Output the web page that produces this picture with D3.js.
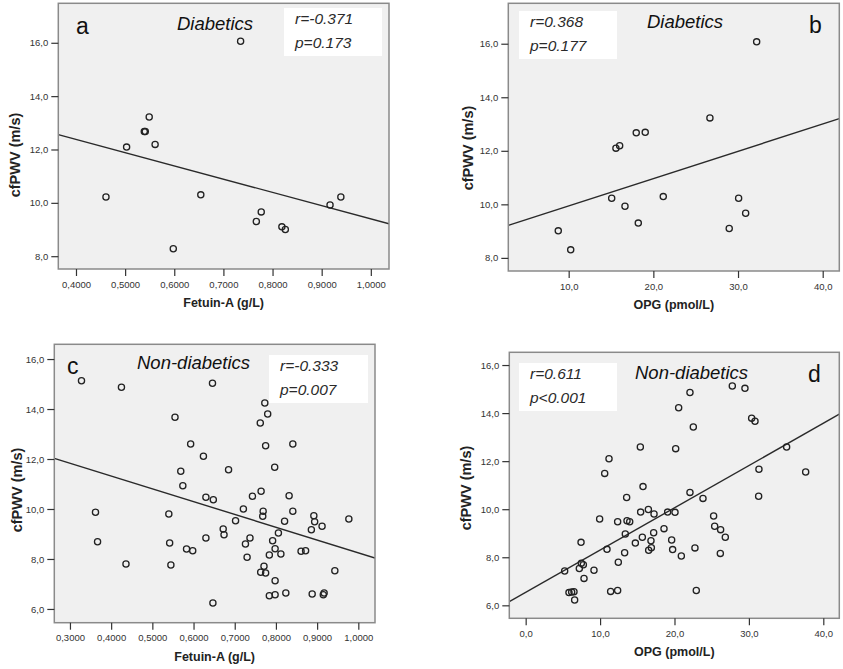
<!DOCTYPE html>
<html><head><meta charset="utf-8">
<script src="https://cdn.jsdelivr.net/npm/d3@7"></script>
<style>
html,body{margin:0;padding:0;background:#fff;}
svg{display:block;font-family:Arial,"Liberation Sans",sans-serif;}
</style></head>
<body><svg id="chart" width="843" height="669"></svg>
<script>
// ---- data ----
const aFetuin = [0.461,0.503,0.539,0.541,0.549,0.561,0.598,0.654,0.735,0.767,0.777,0.819,0.826,0.917,0.939];
const aPwv    = [10.22,12.09,12.67,12.67,13.22,12.19,8.28,10.30,16.06,9.30,9.66,9.10,9.00,9.92,10.22];

const bOpg = [8.77,10.24,15.08,15.58,16.02,16.65,17.98,18.22,19.04,21.17,26.68,28.96,30.07,30.90,32.20];
const bPwv = [9.01,8.30,10.23,12.10,12.19,9.93,12.67,9.30,12.69,10.29,13.23,9.10,10.23,9.67,16.07];

const cFetuin = [0.328,0.425,0.362,0.367,0.436,0.555,0.540,0.542,0.545,0.569,0.574,0.593,0.583,0.598,0.624,0.630,0.630,0.646,0.648,0.647,
  0.672,0.674,0.685,0.702,0.721,0.726,0.730,0.737,0.743,0.763,0.762,0.764,0.773,0.780,0.775,0.769,0.768,0.771,0.775,0.784,
  0.792,0.798,0.797,0.798,0.784,0.798,0.806,0.812,0.821,0.824,0.832,0.841,0.841,0.861,0.872,0.886,0.892,0.894,0.888,0.912,
  0.915,0.917,0.943,0.977];
const cPwv = [15.13,14.87,9.87,8.69,7.80,13.67,9.80,8.64,7.76,11.51,10.93,12.60,8.40,8.33,12.11,10.47,8.84,15.03,10.37,6.24,
  9.20,8.97,11.57,9.53,10.00,8.60,8.07,8.84,10.51,7.47,13.44,10.71,14.24,13.80,12.53,9.91,9.71,7.71,7.44,8.16,
  8.73,8.41,11.67,7.13,6.53,6.57,9.04,8.20,9.51,6.64,10.53,12.60,9.91,8.31,8.33,9.17,9.73,9.49,6.60,9.31,
  6.57,6.64,7.53,9.60];

const dOpg = [5.24,5.82,6.18,6.49,6.58,7.44,7.21,7.48,7.75,7.84,9.18,9.94,10.62,10.93,11.20,11.42,12.36,12.45,12.36,13.30,
  13.39,13.57,13.62,13.98,14.74,15.41,15.45,15.68,15.77,16.49,16.53,16.84,16.89,17.20,17.25,18.59,19.08,19.62,19.75,20.07,
  20.16,20.56,20.92,22.08,22.08,22.53,22.75,22.93,23.83,25.26,25.40,26.20,26.16,26.83,27.77,29.47,30.37,30.82,31.31,31.35,
  35.07,37.63];
const dPwv = [7.43,6.53,6.55,6.57,6.22,8.62,7.53,7.75,7.69,7.12,7.46,9.59,11.49,8.33,12.10,6.58,9.48,7.79,6.62,8.19,
  8.97,10.49,9.52,9.48,8.59,12.59,9.88,8.83,10.94,9.99,8.29,8.69,8.40,9.02,9.80,9.19,9.88,8.72,8.32,9.87,
  12.52,14.22,8.05,14.86,10.70,13.42,8.39,6.62,10.45,9.72,9.29,9.15,8.16,8.83,15.13,15.03,13.79,13.66,10.54,11.66,
  12.59,11.55];

// fitted regression lines (slope, intercept) as drawn in the reference
const fitSlopes     = [-4.96, 0.102, -5.125, 0.1759];
const fitIntercepts = [14.36, 8.92, 13.37, 6.54];

const panelLetters = ["a","b","c","d"];
const groupLabels  = ["Diabetics","Diabetics","Non-diabetics","Non-diabetics"];
const rLabels      = ["r=-0.371","r=0.368","r=-0.333","r=0.611"];
const pLabels      = ["p=0.173","p=0.177","p=0.007","p<0.001"];
const xTitles      = ["Fetuin-A (g/L)","OPG (pmol/L)","Fetuin-A (g/L)","OPG (pmol/L)"];
const yTitle       = "cfPWV (m/s)";

const xTicksA = [0.4,0.5,0.6,0.7,0.8,0.9,1.0];
const xTicksB = [10,20,30,40];
const xTicksC = [0.3,0.4,0.5,0.6,0.7,0.8,0.9,1.0];
const xTicksD = [0,10,20,30,40];
const yTicksTop    = [8,10,12,14,16];
const yTicksBottom = [6,8,10,12,14,16];

// ---- layout ----
const panels = [
  {xs:aFetuin, ys:aPwv, xTicks:xTicksA, yTicks:yTicksTop, xDec:4,
   L:58.3, R:389, T:3.3, B:269, xDom:[0.364,1.037], yDom:[7.52,17.48],
   letter:[76,34], group:[177,30], box:[284,8,98,48], yTitlePos:[20,155]},
  {xs:bOpg, ys:bPwv, xTicks:xTicksB, yTicks:yTicksTop, xDec:1,
   L:508.3, R:839.3, T:3.3, B:271, xDom:[2.87,41.96], yDom:[7.51,17.51],
   letter:[809,33], group:[647,28], box:[519,11,98,48], yTitlePos:[473,148]},
  {xs:cFetuin, ys:cPwv, xTicks:xTicksC, yTicks:yTicksBottom, xDec:4,
   L:54.3, R:375, T:344.3, B:622.7, xDom:[0.262,1.0405], yDom:[5.45,16.59],
   letter:[67,374], group:[137,369], box:[269,355,99,48], yTitlePos:[22,490]},
  {xs:dOpg, ys:dPwv, xTicks:xTicksD, yTicks:yTicksBottom, xDec:1,
   L:509.3, R:839.3, T:352.3, B:618.3, xDom:[-2.2,42.15], yDom:[5.46,16.53],
   letter:[808,382], group:[635,379], box:[519,363,98,48], yTitlePos:[471,488]}
];

const svg = d3.select("#chart");
const comma = dec => v => v.toFixed(dec).replace(".", ",");

panels.forEach((p,i) => {
  const x = d3.scaleLinear().domain(p.xDom).range([p.L,p.R]);
  const y = d3.scaleLinear().domain(p.yDom).range([p.B,p.T]);
  const g = svg.append("g");

  g.append("rect").attr("x",p.L).attr("y",p.T).attr("width",p.R-p.L).attr("height",p.B-p.T)
    .attr("fill","#f0f0f0").attr("stroke","none");

  const clipId = "clip"+i;
  svg.append("clipPath").attr("id",clipId).append("rect")
    .attr("x",p.L).attr("y",p.T).attr("width",p.R-p.L).attr("height",p.B-p.T);

  // regression line
  const fx = v => fitSlopes[i]*v + fitIntercepts[i];
  g.append("line").attr("clip-path",`url(#${clipId})`)
    .attr("x1",x(p.xDom[0])).attr("y1",y(fx(p.xDom[0])))
    .attr("x2",x(p.xDom[1])).attr("y2",y(fx(p.xDom[1])))
    .attr("stroke","#2a2a2a").attr("stroke-width",1.4);

  // annotation box
  g.append("rect").attr("x",p.box[0]).attr("y",p.box[1]).attr("width",p.box[2]).attr("height",p.box[3])
    .attr("fill","#ffffff");
  g.append("text").attr("x",p.box[0]+11).attr("y",p.box[1]+16).text(rLabels[i])
    .attr("font-size",15.5).attr("font-style","italic").attr("fill","#2a2a2a").attr("font-weight",300);
  g.append("text").attr("x",p.box[0]+11).attr("y",p.box[1]+40).text(pLabels[i])
    .attr("font-size",15.5).attr("font-style","italic").attr("fill","#2a2a2a").attr("font-weight",300);

  // points
  g.append("g").attr("clip-path",`url(#${clipId})`).selectAll("circle")
    .data(p.xs.map((v,k)=>[v,p.ys[k]])).join("circle")
    .attr("cx",d=>x(d[0])).attr("cy",d=>y(d[1])).attr("r",3.1)
    .attr("fill","none").attr("stroke","#222").attr("stroke-width",1.3);

  // frame
  g.append("rect").attr("x",p.L).attr("y",p.T).attr("width",p.R-p.L).attr("height",p.B-p.T)
    .attr("fill","none").attr("stroke","#8a8a8a").attr("stroke-width",1.5);

  // panel letter & group label
  g.append("text").attr("x",p.letter[0]).attr("y",p.letter[1]).text(panelLetters[i])
    .attr("font-size",23).attr("fill","#111");
  g.append("text").attr("x",p.group[0]).attr("y",p.group[1]).text(groupLabels[i])
    .attr("font-size",18.5).attr("font-style","italic").attr("fill","#111");

  // axes
  const xa = g.append("g").attr("transform",`translate(0,${p.B})`)
    .call(d3.axisBottom(x).tickValues(p.xTicks).tickFormat(comma(p.xDec)).tickSize(7).tickPadding(5));
  const ya = g.append("g").attr("transform",`translate(${p.L},0)`)
    .call(d3.axisLeft(y).tickValues(p.yTicks).tickFormat(comma(1)).tickSize(7).tickPadding(3));
  [xa,ya].forEach(a => {
    a.select(".domain").remove();
    a.selectAll(".tick line").attr("stroke","#333").attr("stroke-width",1.2);
    a.selectAll(".tick text").attr("font-size",9.5).attr("fill","#333").attr("font-family","Arial, 'Liberation Sans', sans-serif");
  });

  g.append("text").attr("x",(p.L+p.R)/2).attr("y",p.B+38).attr("text-anchor","middle")
    .text(xTitles[i]).attr("font-size",12.5).attr("font-weight","bold").attr("fill","#222");
  g.append("text").attr("transform",`translate(${p.yTitlePos[0]},${p.yTitlePos[1]}) rotate(-90)`)
    .attr("text-anchor","middle").text(yTitle).attr("font-size",14.5).attr("font-weight","bold").attr("fill","#222");
});
</script></body></html>
